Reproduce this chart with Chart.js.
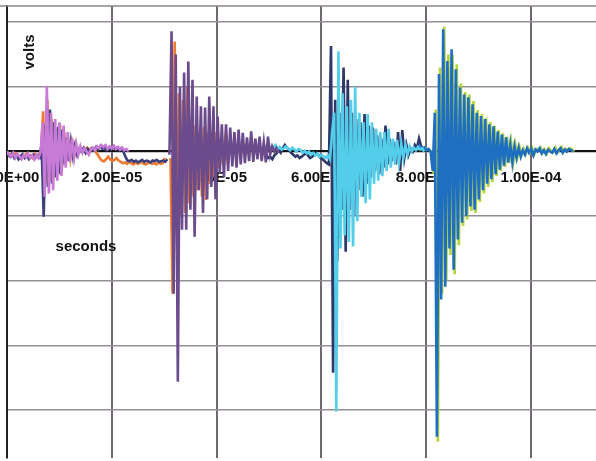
<!DOCTYPE html>
<html>
<head>
<meta charset="UTF-8">
<title>volts vs seconds</title>
<script src="https://cdn.jsdelivr.net/npm/chart.js@4.4.1/dist/chart.umd.min.js"></script>
<style>
    html, body { margin: 0; padding: 0; background: #fff; }
    #wrap { width: 596px; height: 461px; }
</style>
</head>
<body>
<div id="wrap"><canvas id="scope"></canvas></div>
<script>
// time step between samples, microseconds
const stepUs = 0.4;

// burst 1 (pink on top, navy + orange underneath)
const pinkStart = 0.0;
const pinkVolts = [0.0, -0.05, -0.08, -0.02, -0.1, -0.04, -0.08, -0.12, -0.05, -0.09, -0.03, -0.1, -0.06, -0.12, -0.05, -0.1,
    -0.02, 0.45, -0.7, 1.01, -0.65, 0.6, -0.6, 0.5, -0.45, 0.45, -0.38, 0.4, -0.25, 0.3, -0.16, 0.2, -0.1, 0.12, -0.05, 0.08,
    -0.02, 0.05, 0.0, -0.05, 0.03, 0.06, 0.02, 0.08, 0.05, 0.1, 0.07, 0.1, 0.04, 0.08, 0.05, 0.09, 0.04, 0.07, 0.03, 0.06,
    0.02, 0.04, 0.0];
const navy1Start = 0.2;
const navy1Volts = [-0.05, -0.08, -0.03, -0.1, -0.06, -0.12, -0.07, -0.04, -0.1, -0.06, -0.12, -0.08, -0.05, -0.1, -0.06, -0.09,
    0.1, -1.01, 0.42, -0.55, 0.65, -0.5, 0.45, -0.4, 0.38, -0.35, 0.34, -0.2, 0.22, -0.15, 0.15, -0.08, 0.1, -0.05, 0.04,
    0.0, 0.05, -0.02, 0.04, 0.0, 0.05, 0.02, 0.07, 0.03, 0.08, 0.04, 0.06, 0.02, 0.06, 0.03, 0.07, 0.04, 0.06, 0.02, 0.05,
    0.0, -0.08, -0.14, -0.15, -0.13, -0.16, -0.14, -0.17, -0.15, -0.13, -0.16, -0.14, -0.15, -0.17, -0.14, -0.15, -0.13,
    -0.16, -0.15, -0.14, -0.16, -0.12];
const orange1Start = 0.1;
const orange1Volts = [-0.02, -0.06, -0.04, -0.08, -0.03, -0.07, -0.1, -0.05, -0.08, -0.04, -0.09, -0.06, -0.1, -0.04, -0.08, -0.05,
    0.0, 0.62, -0.5, 0.8, -0.45, 0.5, -0.4, 0.35, -0.3, 0.42, -0.25, 0.3, -0.15, 0.2, -0.1, 0.12, -0.05, 0.05,
    0.02, 0.0, 0.04, 0.02, 0.06, 0.03, 0.05, 0.02, 0.0, -0.05, -0.1, -0.14, -0.15, -0.12, -0.08, -0.12, -0.15, -0.13,
    -0.1, -0.14, -0.16, -0.18, -0.17, -0.19, -0.16, -0.18, -0.2, -0.17, -0.19, -0.18, -0.16, -0.19, -0.2, -0.18, -0.17,
    -0.19, -0.18, -0.2, -0.17, -0.19, -0.18, -0.1];

// burst 2 (purple on top, orange underneath)
const purpleStart = 31.0;
const purpleVolts = [-0.05, 1.86, -2.2, 1.5, -3.56, 1.0, -1.21, 1.22, -1.21, 1.39, -0.9, 1.11, -1.32, 0.85, -0.6, 0.7,
    -0.95, 0.68, -0.74, 0.85, -0.55, 0.7, -0.74, 0.54, -0.33, 0.42, -0.4, 0.42, -0.3, 0.37, -0.23, 0.3, -0.25, 0.34,
    -0.2, 0.29, -0.18, 0.22, -0.15, 0.31, -0.16, 0.2, -0.12, 0.23, -0.15, 0.14, -0.17, 0.23, -0.05, 0.08, 0.0, 0.05, -0.02];
const orange2Start = 31.2;
const orange2Volts = [-0.1, -2.2, 1.7, -1.0, 0.9, -1.0, 0.8, -0.95, 1.0, -0.8, 0.5, -0.7, 0.4, -0.6, 0.3, -0.7, 0.38,
    -0.75, 0.3, -0.5, 0.25, -0.4, 0.3, -0.25, 0.2, -0.2, 0.15, -0.1, 0.05, 0.0];

// burst 3 (cyan on top, navy underneath)
const cyanStart = 49.24;
const cyanVolts = [0.1, 0.05, 0.08, 0.02, 0.06, 0.1, 0.04, 0.07, 0.03, 0.05, 0.08, 0.04, 0.02, 0.06, 0.03, 0.0, 0.04,
    0.02, -0.02, 0.01, -0.03, 0.0, -0.05, -0.02, -0.06, -0.03, -0.08, -0.05, -0.08, -0.1, -0.06, -0.12,
    0.3, 0.6, -4.02, 1.55, -1.5, 0.9, -1.3, 0.7, -1.4, 0.8, -1.47, 1.0, -1.08, 0.6, -0.7, 0.45, -0.8, 0.58, -0.74, 0.45,
    -0.5, 0.35, -0.45, 0.3, -0.38, 0.3, -0.3, 0.35, -0.25, 0.2, -0.2, 0.18, -0.15, 0.12, -0.1, 0.1, -0.05, 0.08, 0.0,
    0.06, 0.02, 0.07, 0.03, 0.05, 0.0];
const navy3Start = 49.43;
const navy3Volts = [-0.05, -0.1, -0.08, -0.12, -0.06, -0.03, 0.02, -0.02, 0.05, 0.1, 0.06, 0.03, -0.02, -0.05, -0.08, -0.06,
    -0.1, -0.08, -0.05, -0.03, -0.06, -0.1, -0.08, -0.04, -0.02, -0.05, -0.1, -0.12, -0.15, -0.18, -0.2,
    1.63, -3.42, 0.8, -1.7, 0.6, -0.9, 1.3, -1.55, 1.11, -0.9, 0.6, -1.0, 0.5, -0.6, 0.45, -0.7, 0.58, -0.5, 0.4, -0.4,
    0.37, -0.3, 0.25, -0.35, 0.2, -0.25, 0.4, -0.2, 0.2, -0.15, 0.15, -0.2, 0.3, -0.3, 0.33, -0.1, 0.1, -0.05, 0.05,
    0.0, 0.1, 0.05, 0.2, 0.08, 0.05, 0.02];

// burst 4 (blue on top, yellow-green underneath)
const blueStart = 78.44;
const blueVolts = [0.05, 0.08, 0.03, 0.06, 0.02, 0.04, 0.0, -0.3, 0.6, -4.41, 1.2, -2.29, 1.89, -2.09, 1.4, -1.5, 1.58,
    -1.83, 1.27, -1.36, 0.99, -1.1, 0.88, -1.0, 0.84, -0.85, 0.73, -0.9, 0.6, -0.74, 0.55, -0.6, 0.5, -0.5, 0.42, -0.43,
    0.39, -0.35, 0.31, -0.28, 0.26, -0.22, 0.22, -0.17, 0.11, -0.17, 0.08, -0.1, 0.06, -0.08,
    0.02, -0.05, 0.05, -0.02, 0.04, -0.06, 0.03, 0.0, 0.05, -0.03, 0.02, -0.04, 0.03, 0.0, -0.02, 0.04, -0.03, 0.02,
    0.05, -0.02, 0.03, 0.0, 0.04, 0.02, 0.0];
const yellowStart = 78.63;
const yellowVolts = [0.04, 0.06, 0.02, 0.05, 0.03, 0.02, 0.0, -0.35, 0.65, -4.49, 1.3, -2.2, 1.93, -2.0, 1.5, -1.6, 1.5,
    -1.9, 1.35, -1.45, 1.05, -1.15, 0.92, -1.05, 0.88, -0.92, 0.78, -0.95, 0.64, -0.78, 0.58, -0.65, 0.52, -0.55, 0.45,
    -0.47, 0.4, -0.38, 0.33, -0.3, 0.28, -0.24, 0.23, -0.18, 0.13, -0.15, 0.1, -0.08, 0.07, -0.05,
    0.04, -0.03, 0.06, -0.01, 0.05, -0.04, 0.04, 0.02, 0.06, -0.02, 0.03, -0.03, 0.05, 0.01, -0.01, 0.06, -0.02, 0.03,
    0.07, 0.0, 0.04, 0.02, 0.05, 0.03, 0.0];

const xTickStep = 2e-5;
const xMax = 1.124e-4;
const yMin = -4.74;
const yMax = 2.25;

function series(startUs, volts) {
    return volts.map((v, k) => ({ x: (startUs + k * stepUs) * 1e-6, y: v }));
}

function trace(label, startUs, volts, color, order) {
    return {
        label: label,
        data: series(startUs, volts),
        borderColor: color,
        borderWidth: 2.6,
        pointRadius: 0,
        tension: 0,
        order: order
    };
}

function sciLabel(v) {
    if (Math.abs(v) < 1e-12) return '0.00E+00';
    const parts = v.toExponential(2).split('e');
    const exp = parseInt(parts[1], 10);
    const sign = exp < 0 ? '-' : '+';
    return parts[0] + 'E' + sign + String(Math.abs(exp)).padStart(2, '0');
}

const labelFont = { family: '"Liberation Sans", Arial, sans-serif', size: 15, weight: 'bold' };

const titles = {
    id: 'titles',
    afterDraw(chart) {
        const c = chart.ctx;
        const area = chart.chartArea;
        c.save();
        c.strokeStyle = '#8c858c';
        c.lineWidth = 1.5;
        c.beginPath();
        c.moveTo(0, area.top);
        c.lineTo(chart.width, area.top);
        c.stroke();
        c.fillStyle = '#111';
        c.font = 'bold 15px "Liberation Sans", Arial, sans-serif';
        c.textAlign = 'center';
        c.textBaseline = 'middle';
        c.fillText('seconds', 86, 247);
        c.translate(30, 52);
        c.rotate(-Math.PI / 2);
        c.fillText('volts', 0, 0);
        c.restore();
    }
};

// keep the edge labels from pushing the plot area inwards
function noEdgePadding(scale) {
    scale.paddingLeft = 0;
    scale.paddingRight = 0;
    scale.paddingTop = 0;
    scale.paddingBottom = 0;
}

new Chart(document.getElementById('scope'), {
    type: 'line',
    data: {
        datasets: [
            trace('orange 1', orange1Start, orange1Volts, '#f07a2e', 3),
            trace('navy 1', navy1Start, navy1Volts, '#3b3f7c', 2),
            trace('pink', pinkStart, pinkVolts, '#c77ad6', 1),
            trace('orange 2', orange2Start, orange2Volts, '#f07a2e', 2),
            trace('purple', purpleStart, purpleVolts, '#6b4b8c', 1),
            trace('navy 3', navy3Start, navy3Volts, '#2d3869', 2),
            trace('cyan', cyanStart, cyanVolts, '#52cdea', 1),
            trace('yellow', yellowStart, yellowVolts, '#b4d43a', 2),
            trace('blue', blueStart, blueVolts, '#1e6fc2', 1)
        ]
    },
    plugins: [titles],
    options: {
        responsive: true,
        maintainAspectRatio: false,
        animation: false,
        layout: { padding: { left: 7, top: 6, right: 0, bottom: 3 } },
        plugins: { legend: { display: false }, tooltip: { enabled: false } },
        scales: {
            x: {
                type: 'linear',
                position: { y: 0 },
                min: 0,
                max: xMax,
                afterFit: noEdgePadding,
                border: { color: '#111', width: 2 },
                grid: { color: '#6f6870', lineWidth: 2, drawTicks: false },
                ticks: {
                    stepSize: xTickStep,
                    includeBounds: false,
                    autoSkip: false,
                    maxRotation: 0,
                    padding: 17,
                    color: '#111',
                    font: labelFont,
                    callback: v => sciLabel(v)
                }
            },
            y: {
                type: 'linear',
                position: 'left',
                min: yMin,
                max: yMax,
                afterFit: (scale) => { scale.width = 0; noEdgePadding(scale); },
                border: { color: '#222', width: 2 },
                grid: { color: '#958d95', lineWidth: 1.5, drawTicks: false },
                ticks: { display: false, stepSize: 1, includeBounds: false }
            }
        }
    }
});
</script>
</body>
</html>
